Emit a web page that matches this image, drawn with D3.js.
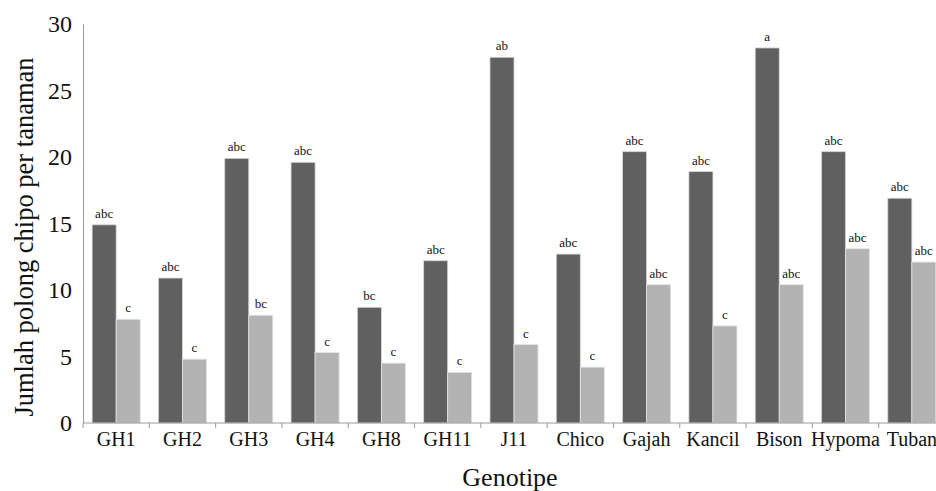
<!DOCTYPE html>
<html>
<head>
<meta charset="utf-8">
<script src="https://cdn.jsdelivr.net/npm/d3@7"></script>
<style>
  body { margin: 0; background: #fff; }
  svg { display: block; }
  text { font-family: "Liberation Serif", "Times New Roman", serif; fill: #111; }
</style>
</head>
<body>
<script>
// data
var genotypes = ["GH1", "GH2", "GH3", "GH4", "GH8", "GH11", "J11", "Chico", "Gajah", "Kancil", "Bison", "Hypoma", "Tuban"];
var seriesA = [14.9, 10.9, 19.9, 19.6, 8.7, 12.2, 27.5, 12.7, 20.4, 18.9, 28.2, 20.4, 16.9];
var seriesB = [7.8, 4.8, 8.1, 5.3, 4.5, 3.8, 5.9, 4.2, 10.4, 7.3, 10.4, 13.1, 12.1];
var lettersA = ["abc", "abc", "abc", "abc", "bc", "abc", "ab", "abc", "abc", "abc", "a", "abc", "abc"];
var lettersB = ["c", "c", "bc", "c", "c", "c", "c", "c", "abc", "c", "abc", "abc", "abc"];
var yTicks = [0, 5, 10, 15, 20, 25, 30];

var width = 936, height = 491;
var plotLeft = 83, plotTop = 24, plotBottom = 423, plotRight = 945; // plot runs past the right edge like the reference

var svg = d3.select("body").append("svg")
  .attr("width", width)
  .attr("height", height);

var x = d3.scaleBand().domain(genotypes).range([plotLeft, plotRight]).padding(0);
var x1 = d3.scaleBand().domain(["A", "B"]).range([0, x.bandwidth()]).paddingInner(0).paddingOuter(0.38);
var y = d3.scaleLinear().domain([0, 30]).range([plotBottom, plotTop]);

var rows = genotypes.map(function(g, i){
  return {name: g, a: seriesA[i], b: seriesB[i], la: lettersA[i], lb: lettersB[i]};
});

// bars
var groups = svg.selectAll("g.grp")
  .data(rows)
  .enter().append("g")
  .attr("class", "grp")
  .attr("transform", function(d){ return "translate(" + x(d.name) + ",0)"; });

groups.append("rect")
  .attr("x", x1("A"))
  .attr("y", function(d){ return y(d.a); })
  .attr("width", x1.bandwidth())
  .attr("height", function(d){ return y(0) - y(d.a); })
  .style("fill", "#606060")
  .style("stroke", "#d6d6d6")
  .style("stroke-width", 0.8);

groups.append("rect")
  .attr("x", x1("B"))
  .attr("y", function(d){ return y(d.b); })
  .attr("width", x1.bandwidth())
  .attr("height", function(d){ return y(0) - y(d.b); })
  .style("fill", "#b3b3b3")
  .style("stroke", "#e4e4e4")
  .style("stroke-width", 0.8);

groups.append("text")
  .attr("x", x1("A") + x1.bandwidth() / 2)
  .attr("y", function(d){ return y(d.a) - 7; })
  .attr("text-anchor", "middle")
  .style("font-size", "13px")
  .text(function(d){ return d.la; });

groups.append("text")
  .attr("x", x1("B") + x1.bandwidth() / 2)
  .attr("y", function(d){ return y(d.b) - 7; })
  .attr("text-anchor", "middle")
  .style("font-size", "13px")
  .text(function(d){ return d.lb; });

// y axis
var yAxis = svg.append("g")
  .attr("transform", "translate(" + plotLeft + ",0)")
  .call(d3.axisLeft(y).tickValues(yTicks).tickSize(0).tickPadding(11));
yAxis.select(".domain").attr("stroke", "#9a9a9a");
yAxis.selectAll("text")
  .style("font-size", "24px")
  .style("font-family", "Liberation Serif, serif")
  .style("fill", "#111");

// x axis, ticks at band edges
var xAxis = svg.append("g")
  .attr("transform", "translate(0," + plotBottom + ")");
xAxis.append("line")
  .attr("x1", plotLeft).attr("x2", plotRight)
  .attr("stroke", "#9a9a9a");
xAxis.selectAll("line.tk")
  .data(genotypes)
  .enter().append("line")
  .attr("class", "tk")
  .attr("x1", function(d){ return x(d); })
  .attr("x2", function(d){ return x(d); })
  .attr("y1", 0).attr("y2", 5)
  .attr("stroke", "#9a9a9a");
xAxis.selectAll("text")
  .data(genotypes)
  .enter().append("text")
  .attr("x", function(d){ return x(d) + x.bandwidth() / 2; })
  .attr("y", 23)
  .attr("text-anchor", "middle")
  .style("font-size", "20px")
  .text(function(d){ return d; });

// axis titles
svg.append("text")
  .attr("transform", "translate(33,237) rotate(-90)")
  .attr("text-anchor", "middle")
  .style("font-size", "26.5px")
  .text("Jumlah polong chipo per tanaman");

svg.append("text")
  .attr("x", 510)
  .attr("y", 486)
  .attr("text-anchor", "middle")
  .style("font-size", "26px")
  .text("Genotipe");
</script>
</body>
</html>
